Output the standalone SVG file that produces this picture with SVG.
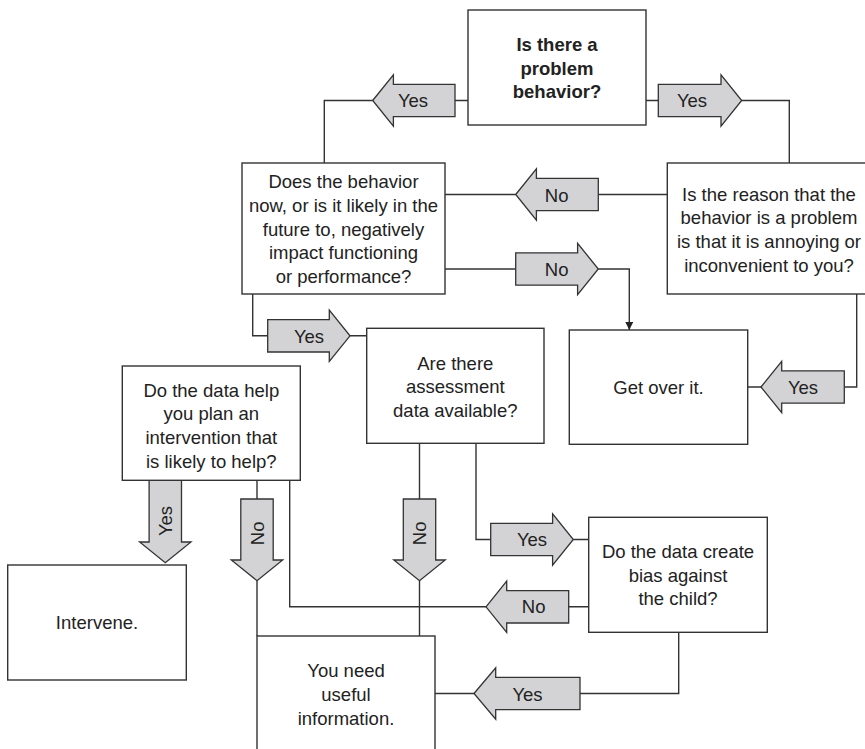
<svg xmlns="http://www.w3.org/2000/svg" width="865" height="749" viewBox="0 0 865 749">
<style>
.box{fill:#fff;stroke:#333;stroke-width:1.4}
.ln{fill:none;stroke:#333;stroke-width:1.4}
.arr{fill:#d3d3d6;stroke:#333;stroke-width:1.3}
text{font-family:"Liberation Sans",Arial,sans-serif;font-size:18.5px;fill:#222;text-anchor:middle}
.b{font-weight:bold}
</style>
<defs>
<marker id="ah" viewBox="0 0 10 10" refX="10" refY="5" markerWidth="8" markerHeight="8" markerUnits="userSpaceOnUse" orient="auto">
<path d="M0,0 L10,5 L0,10 Z" fill="#222"/>
</marker>
</defs>
<rect width="865" height="749" fill="#fff"/>

<g id="connectors">
<path class="ln" d="M468,100.5 H455 M372.7,100.5 H324.3 V163"/>
<path class="ln" d="M646,100.5 H658.3 M741.7,100.5 H789.3 V163"/>
<path class="ln" d="M667.3,194.5 H598.3 M515.7,194.5 H445"/>
<path class="ln" d="M445,269 H515.7"/>
<path class="ln" d="M598.3,269 H629.3 V330" marker-end="url(#ah)"/>
<path class="ln" d="M252.7,294 V335.8 H267.7 M350,335.8 H366.7"/>
<path class="ln" d="M856.7,294 V387 H844.3 M761,387 H747.7"/>
<path class="ln" d="M257,480.3 V499 M257,580.7 V636"/>
<path class="ln" d="M289.7,480.3 V606.8 H486 M568.7,606.8 H588.7"/>
<path class="ln" d="M419.5,443.3 V499 M419.5,580.7 V636"/>
<path class="ln" d="M476,443.3 V539.5 H490.7 M573.3,539.5 H588.7"/>
<path class="ln" d="M678.7,632.3 V693.5 H580 M474,693.5 H435"/>

<path class="arr" d="M372.7,100.5 L393.4,74.8 V84.3 H455 V116.7 H393.4 V126.2 Z"/>
<text x="413" y="107">Yes</text>
<path class="arr" d="M658.3,84.3 H721 V74.8 L741.7,100.5 L721,126.2 V116.7 H658.3 Z"/>
<text x="692" y="107">Yes</text>
<path class="arr" d="M515.7,194.5 L536.4,168.8 V178.3 H598.3 V210.7 H536.4 V220.2 Z"/>
<text x="556.7" y="201.5">No</text>
<path class="arr" d="M515.7,252.8 H577.6 V243.3 L598.3,269 L577.6,294.7 V285.2 H515.7 Z"/>
<text x="556.7" y="276">No</text>
<path class="arr" d="M267.7,319.6 H329.3 V310.1 L350,335.8 L329.3,361.5 V352 H267.7 Z"/>
<text x="309" y="342.5">Yes</text>
<path class="arr" d="M761,387 L781.7,361.3 V370.8 H844.3 V403.2 H781.7 V412.7 Z"/>
<text x="803" y="393.5">Yes</text>
<path class="arr" d="M149.1,480.3 V542 H139.6 L165.3,562.7 L191,542 H181.5 V480.3 Z"/>
<text transform="translate(172.3,521) rotate(-90)">Yes</text>
<path class="arr" d="M240.8,499 V560 H231.3 L257,580.7 L282.7,560 H273.2 V499 Z"/>
<text transform="translate(263.6,533.3) rotate(-90)">No</text>
<path class="arr" d="M403.3,499 V560 H393.8 L419.5,580.7 L445.2,560 H435.7 V499 Z"/>
<text transform="translate(426.1,533.3) rotate(-90)">No</text>
<path class="arr" d="M490.7,523.3 H552.6 V513.8 L573.3,539.5 L552.6,565.2 V555.7 H490.7 Z"/>
<text x="532" y="545.5">Yes</text>
<path class="arr" d="M486,606.8 L506.7,581.1 V590.6 H568.7 V623 H506.7 V632.5 Z"/>
<text x="533.7" y="613.3">No</text>
<path class="arr" d="M474,693.5 L495.7,667.8 V677.3 H580 V709.7 H495.7 V719.2 Z"/>
<text x="527.5" y="700.5">Yes</text>
</g>

<g id="n-problem">
<rect class="box" x="468" y="10" width="178" height="115"/>
<text class="b" x="557" y="51">Is there a</text>
<text class="b" x="557" y="74.7">problem</text>
<text class="b" x="557" y="98.4">behavior?</text>
</g>

<g id="n-impact">
<rect class="box" x="242" y="163" width="203" height="131"/>
<text x="343.5" y="188">Does the behavior</text>
<text x="343.5" y="211.8">now, or is it likely in the</text>
<text x="343.5" y="235.6">future to, negatively</text>
<text x="343.5" y="259.4">impact functioning</text>
<text x="343.5" y="283.2">or performance?</text>
</g>

<g id="n-annoying">
<rect class="box" x="667.3" y="163" width="204" height="131"/>
<text x="769" y="200.5">Is the reason that the</text>
<text x="769" y="224.2">behavior is a problem</text>
<text x="769" y="248">is that it is annoying or</text>
<text x="769" y="271.7">inconvenient to you?</text>
</g>

<g id="n-getover">
<rect class="box" x="569.3" y="330" width="178.4" height="114.3"/>
<text x="658.5" y="394">Get over it.</text>
</g>

<g id="n-assessment">
<rect class="box" x="366.7" y="328.3" width="177.3" height="115"/>
<text x="455.3" y="369.5">Are there</text>
<text x="455.3" y="393.2">assessment</text>
<text x="455.3" y="416.9">data available?</text>
</g>

<g id="n-datahelp">
<rect class="box" x="122.3" y="366" width="178" height="114.3"/>
<text x="211.3" y="396.6">Do the data help</text>
<text x="211.3" y="420.3">you plan an</text>
<text x="211.3" y="444">intervention that</text>
<text x="211.3" y="467.7">is likely to help?</text>
</g>

<g id="n-intervene">
<rect class="box" x="7.7" y="565" width="178.6" height="115"/>
<text x="97" y="628.5">Intervene.</text>
</g>

<g id="n-bias">
<rect class="box" x="588.7" y="517.3" width="178.6" height="115"/>
<text x="678" y="558">Do the data create</text>
<text x="678" y="581.7">bias against</text>
<text x="678" y="605.4">the child?</text>
</g>

<g id="n-useful">
<rect class="box" x="257" y="636" width="178" height="130"/>
<text x="346" y="677">You need</text>
<text x="346" y="700.8">useful</text>
<text x="346" y="724.5">information.</text>
</g>
</svg>
